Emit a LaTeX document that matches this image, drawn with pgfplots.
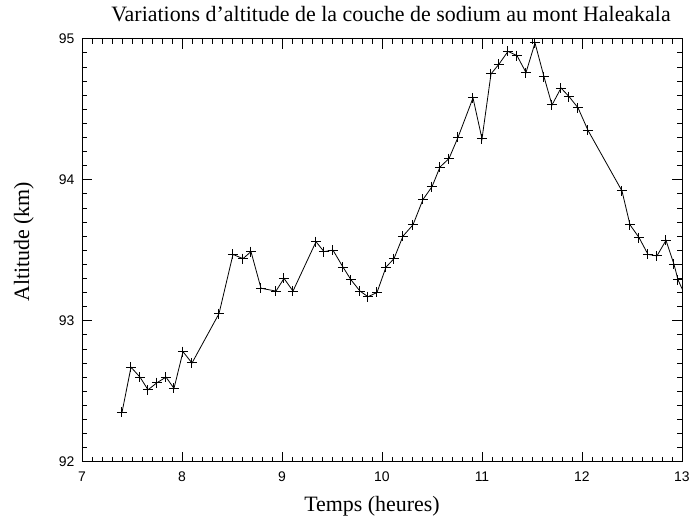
\documentclass[border=0pt]{standalone}
\usepackage{fontspec}
\setmainfont{Liberation Serif}
\newfontfamily\tickfont{Liberation Sans}
\usepackage{pgfplots}
\pgfplotsset{compat=1.18}
\begin{document}
\begin{tikzpicture}
\useasboundingbox (-82bp,-55.3bp) rectangle (607bp,461.7bp);
\begin{axis}[
  at={(0,0)}, anchor=south west,
  scale only axis,
  width=600bp, height=423bp,
  xmin=7, xmax=13, ymin=92, ymax=95,
  xtick={7,8,...,13}, ytick={92,93,94,95},
  minor x tick num=9, minor y tick num=9,
  major tick length=10bp, minor tick length=5bp,
  tick align=inside,
  tick style={black, line width=0.6bp},
  axis line style={line width=0.8bp},
  /pgf/number format/assume math mode=true,
  ticklabel style={font=\tickfont\fontsize{14}{14}\selectfont},
  yticklabel style={xshift=-4bp},
  xticklabel style={yshift=-6.5bp},
  every axis title/.style={font=\fontsize{22}{22}\selectfont, at={(0.5,1)}, anchor=base, yshift=17bp, xshift=9bp},
  title={Variations d’altitude de la couche de sodium au mont Haleakala},
  every axis x label/.style={font=\fontsize{22}{22}\selectfont, at={(0.5,0)}, anchor=base, yshift=-50bp, xshift=-10bp},
  xlabel={Temps (heures)},
  every axis y label/.style={font=\fontsize{22}{22}\selectfont, rotate=90, at={(axis description cs:-0.0883,0.52)}, anchor=base},
  ylabel={Altitude (km)},
]
\addplot[black, line width=0.8bp, mark=+, mark size=5bp, mark options={line width=1bp}] coordinates {
(7.40,92.35) (7.49,92.67) (7.58,92.60) (7.66,92.51) (7.75,92.56) (7.84,92.60)
(7.92,92.52) (8.01,92.78) (8.10,92.70) (8.37,93.05) (8.51,93.47) (8.61,93.44)
(8.69,93.49) (8.79,93.23) (8.94,93.21) (9.02,93.30) (9.11,93.21) (9.34,93.56)
(9.42,93.49) (9.51,93.50) (9.61,93.38) (9.69,93.29) (9.78,93.21) (9.86,93.17)
(9.95,93.20) (10.04,93.38) (10.12,93.44) (10.21,93.60) (10.31,93.68) (10.41,93.86)
(10.50,93.95) (10.58,94.09) (10.67,94.15) (10.76,94.30) (10.91,94.58) (11.00,94.29)
(11.09,94.75) (11.17,94.82) (11.26,94.91) (11.35,94.88) (11.44,94.76) (11.53,94.97)
(11.62,94.73) (11.70,94.53) (11.79,94.65) (11.87,94.59) (11.96,94.51) (12.06,94.35)
(12.40,93.92) (12.48,93.68) (12.57,93.59) (12.66,93.47) (12.75,93.46) (12.84,93.57)
(12.92,93.40) (12.96,93.29) (13.05,93.15)
};
\end{axis}
\end{tikzpicture}
\end{document}
